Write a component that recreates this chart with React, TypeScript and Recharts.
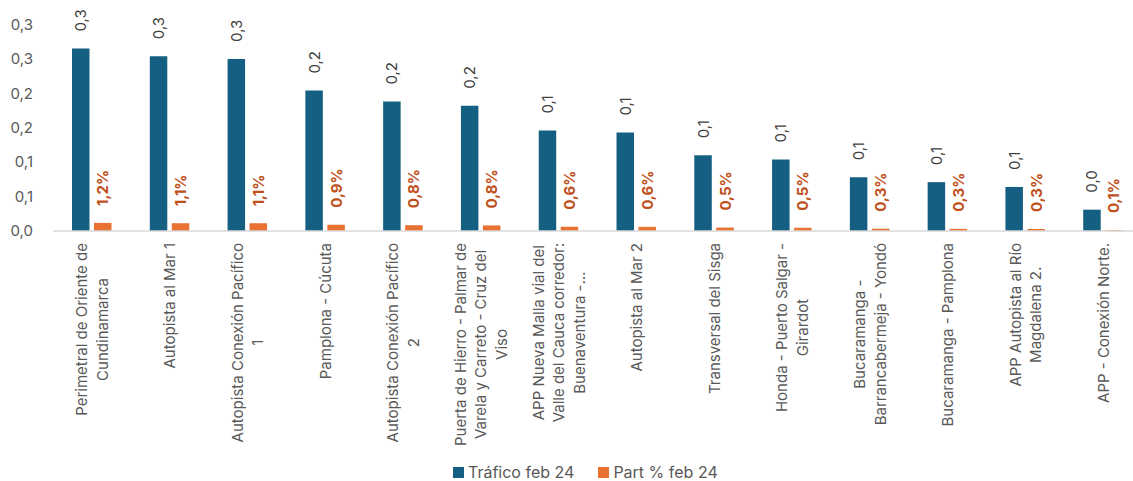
import React from 'react';
import { BarChart, Bar, XAxis, YAxis, LabelList, Legend } from 'recharts';

const categories = [
  'Perimetral de Oriente de Cundinamarca',
  'Autopista al Mar 1',
  'Autopista Conexión Pacífico 1',
  'Pamplona - Cúcuta',
  'Autopista Conexión Pacífico 2',
  'Puerta de Hierro - Palmar de Varela y Carreto - Cruz del Viso',
  'APP Nueva Malla vial del Valle del Cauca corredor: Buenaventura -...',
  'Autopista al Mar 2',
  'Transversal del Sisga',
  'Honda - Puerto Salgar - Girardot',
  'Bucaramanga - Barrancabermeja - Yondó',
  'Bucaramanga - Pamplona',
  'APP Autopista al Río Magdalena 2.',
  'APP - Conexión Norte.',
];

const categoryLabelLines: string[][] = [
  ['Perimetral de Oriente de', 'Cundinamarca'],
  ['Autopista al Mar 1'],
  ['Autopista Conexión Pacífico', '1'],
  ['Pamplona - Cúcuta'],
  ['Autopista Conexión Pacífico', '2'],
  ['Puerta de Hierro - Palmar de', 'Varela y Carreto - Cruz del', 'Viso'],
  ['APP Nueva Malla vial del', 'Valle del Cauca corredor:', 'Buenaventura -...'],
  ['Autopista al Mar 2'],
  ['Transversal del Sisga'],
  ['Honda - Puerto Salgar -', 'Girardot'],
  ['Bucaramanga -', 'Barrancabermeja - Yondó'],
  ['Bucaramanga - Pamplona'],
  ['APP Autopista al Río', 'Magdalena 2.'],
  ['APP - Conexión Norte.'],
];

const trafico = [0.265, 0.254, 0.25, 0.204, 0.188, 0.182, 0.146, 0.143, 0.11, 0.104, 0.078, 0.071, 0.064, 0.031];
const partPct = [0.0118, 0.0113, 0.0111, 0.0091, 0.0084, 0.0081, 0.0062, 0.0061, 0.005, 0.0047, 0.0034, 0.0031, 0.0029, 0.0013];
const yTicks = [0, 0.05, 0.1, 0.15, 0.2, 0.25, 0.3];

const seriesNames = ['Tráfico feb 24', 'Part % feb 24'];
const BLUE = '#156082';
const ORANGE = '#E97132';
const ORANGE_TEXT = '#C0501A';
const FONT = 'Inter, "Open Sans", sans-serif';

const data = categories.map((c, i) => ({ name: c, trafico: trafico[i], part: partPct[i] }));

const fmt1 = (v: number) => (Math.round(v * 10 + 1e-6) / 10).toFixed(1).replace('.', ',');
const fmtPct = (v: number) => (Math.round(v * 1000 + 1e-6) / 10).toFixed(1).replace('.', ',') + '%';

let canvasCtx: CanvasRenderingContext2D | null = null;
const measure = (s: string, font: string) => {
  if (!canvasCtx) canvasCtx = document.createElement('canvas').getContext('2d');
  if (!canvasCtx) return s.length * 7;
  canvasCtx.font = font;
  return canvasCtx.measureText(s).width;
};

const CAT_FONT_SIZE = 15;
const CAT_LINE_H = 20.5;

const CategoryTick = (props: any) => {
  const { x, y, payload } = props;
  const idx = categories.indexOf(payload.value);
  const lines = categoryLabelLines[idx] || [payload.value];
  const font = `${CAT_FONT_SIZE}px Inter`;
  const blockLen = Math.max(...lines.map((l) => measure(l, font)));
  const n = lines.length;
  return (
    <g transform={`translate(${x},${y}) rotate(-90)`}>
      {lines.map((l, i) => (
        <text
          key={i}
          x={-blockLen / 2}
          y={(i - (n - 1) / 2) * CAT_LINE_H}
          textAnchor="middle"
          dominantBaseline="central"
          fontSize={CAT_FONT_SIZE}
          fontFamily={FONT}
          fill="#595959"
        >
          {l}
        </text>
      ))}
    </g>
  );
};

const makeLabel = (color: string, bold: boolean, formatter: (v: number) => string) => (props: any) => {
  const { x, y, width, value } = props;
  const cx = Number(x) + Number(width) / 2;
  const ty = Number(y) - 17;
  return (
    <text
      x={cx}
      y={ty}
      transform={`rotate(-90 ${cx} ${ty})`}
      textAnchor="start"
      dominantBaseline="central"
      fontSize={15}
      fontWeight={bold ? 700 : 400}
      fontFamily={FONT}
      fill={color}
    >
      {formatter(Number(value))}
    </text>
  );
};

const LegendContent = () => (
  <div style={{ display: 'flex', alignItems: 'center', fontFamily: FONT, fontSize: 16, lineHeight: '16px', height: 16, color: '#595959' }}>
    {[BLUE, ORANGE].map((c, i) => (
      <div key={i} style={{ display: 'flex', alignItems: 'center', marginRight: i === 0 ? 24 : 0 }}>
        <div style={{ width: 11, height: 11, background: c, marginRight: 4 }} />
        <span>{seriesNames[i]}</span>
      </div>
    ))}
  </div>
);

export default function App() {
  return (
    <div style={{ position: 'absolute', left: 0, top: 0, width: 1133, height: 481, overflow: 'hidden', background: '#fff' }}>
      <BarChart
        width={1145}
        height={481}
        data={data}
        margin={{ top: 24.5, right: 3, bottom: 0, left: 0 }}
        barGap={4.5}
      >
        <YAxis
          width={53}
          domain={[0, 0.3]}
          ticks={yTicks}
          interval={0}
          axisLine={false}
          tickLine={false}
          tickSize={0}
          tickMargin={20}
          tickFormatter={fmt1}
          tick={{ fontSize: 15, fill: '#595959', fontFamily: FONT }}
        />
        <XAxis
          dataKey="name"
          height={250}
          interval={0}
          tickLine={false}
          tickSize={0}
          tickMargin={12}
          axisLine={{ stroke: '#D9D9D9', strokeWidth: 1.5 }}
          tick={<CategoryTick />}
        />
        <Legend
          layout="horizontal"
          verticalAlign="middle"
          align="center"
          content={<LegendContent />}
          wrapperStyle={{ position: 'absolute', top: 464, left: 453, width: 320, height: 16 }}
        />
        <Bar dataKey="trafico" name={seriesNames[0]} fill={BLUE} barSize={17.5} isAnimationActive={false}>
          <LabelList dataKey="trafico" content={makeLabel('#404040', false, fmt1)} />
        </Bar>
        <Bar dataKey="part" name={seriesNames[1]} fill={ORANGE} barSize={17.5} isAnimationActive={false}>
          <LabelList dataKey="part" content={makeLabel(ORANGE_TEXT, true, fmtPct)} />
        </Bar>
      </BarChart>
    </div>
  );
}
